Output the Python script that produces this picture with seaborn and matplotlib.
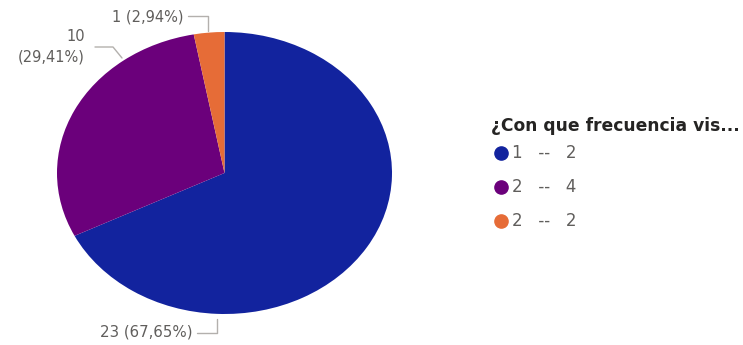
import matplotlib
matplotlib.use("Agg")
import matplotlib.pyplot as plt
from matplotlib.lines import Line2D
import numpy as np
import seaborn as sns

categories = ["1   --   2", "2   --   4", "2   --   2"]
counts = [23, 10, 1]
colors = ["#12239E", "#6B007B", "#E66C37"]
legend_title = "¿Con que frecuencia vis..."

sns.set_theme(style="white")
plt.rcParams["font.family"] = ["DejaVu Sans"]

W, H = 743, 345
fig = plt.figure(figsize=(W / 100, H / 100), dpi=100)
fig.patch.set_facecolor("white")

def fx(px):
    return px / W

def fy(py):
    return 1 - py / H

# pie area (elliptical, as the box is wider than tall)
left, top, right, bottom = 57, 32, 392, 314
ax = fig.add_axes([fx(left), fy(bottom), (right - left) / W, (bottom - top) / H])
ax.pie(counts, colors=colors, startangle=90, counterclock=False,
       wedgeprops=dict(linewidth=0))
ax.set_aspect("auto")
ax.set_xlim(-1, 1)
ax.set_ylim(-1, 1)
ax.axis("off")

total = sum(counts)
labels = [f"{v} ({v / total * 100:.2f}%)".replace(".", ",") for v in counts]

text_color = "#605E5C"
line_color = "#B3B0AD"
fs = 10.5

def line(points):
    xs = [fx(p[0]) for p in points]
    ys = [fy(p[1]) for p in points]
    fig.add_artist(Line2D(xs, ys, transform=fig.transFigure, color=line_color, lw=1))

# 23 (67,65%)
fig.text(fx(193), fy(332), labels[0], ha="right", va="center", fontsize=10.8, color=text_color)
line([(197, 333), (217, 333), (217, 319)])

# 10 (29,41%) on two lines
fig.text(fx(85), fy(47), labels[1].replace(" ", "\n", 1), ha="right", va="center",
         fontsize=fs, color=text_color, multialignment="right", linespacing=1.45)
line([(95, 47), (113, 47), (122, 58)])

# 1 (2,94%)
fig.text(fx(183), fy(17), labels[2], ha="right", va="center", fontsize=fs, color=text_color)
line([(188, 16), (208, 16), (208, 31)])

# legend
fig.text(fx(491), fy(126), legend_title, ha="left", va="center", fontsize=12.3,
         fontweight="bold", color="#252423")
for i, (cat, col) in enumerate(zip(categories, colors)):
    y = 153 + i * 34
    fig.add_artist(Line2D([fx(501)], [fy(y)], transform=fig.transFigure, marker="o",
                          markersize=9.5, color=col, linestyle="none"))
    fig.text(fx(512), fy(y), cat, ha="left", va="center", fontsize=12, color=text_color)

fig.savefig("out.png", dpi=100, facecolor="white")
